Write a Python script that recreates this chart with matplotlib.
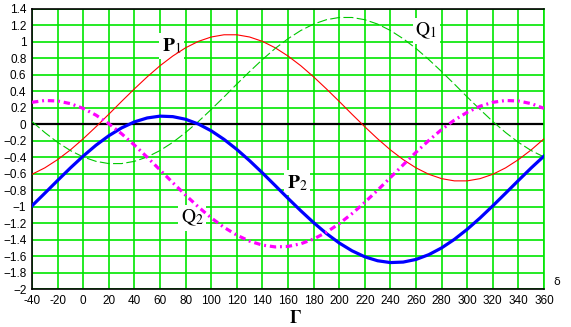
import numpy as np
import matplotlib
matplotlib.use("Agg")
import matplotlib.pyplot as plt

# data, every 10 units of r
r = list(range(-40, 361, 10))

P1 = [-0.607, -0.529, -0.429, -0.311, -0.176, -0.030, 0.122, 0.278, 0.430, 0.576,
      0.711, 0.829, 0.929, 1.007, 1.060, 1.087, 1.087, 1.060, 1.007, 0.929,
      0.829, 0.711, 0.576, 0.430, 0.278, 0.122, -0.030, -0.176, -0.311, -0.429,
      -0.529, -0.607, -0.660, -0.687, -0.687, -0.660, -0.607, -0.529, -0.429, -0.311,
      -0.176]

Q1 = [0.034, -0.100, -0.219, -0.319, -0.397, -0.450, -0.477, -0.477, -0.450, -0.397,
      -0.319, -0.219, -0.100, 0.034, 0.180, 0.332, 0.488, 0.640, 0.786, 0.921,
      1.039, 1.139, 1.217, 1.270, 1.297, 1.297, 1.270, 1.217, 1.139, 1.039,
      0.921, 0.786, 0.640, 0.488, 0.332, 0.180, 0.034, -0.100, -0.219, -0.319,
      -0.397]

P2 = [-0.990, -0.837, -0.682, -0.530, -0.386, -0.254, -0.139, -0.044, 0.029, 0.077,
      0.099, 0.093, 0.061, 0.003, -0.079, -0.183, -0.305, -0.442, -0.590, -0.744,
      -0.899, -1.050, -1.194, -1.326, -1.441, -1.536, -1.609, -1.657, -1.679, -1.673,
      -1.641, -1.583, -1.501, -1.397, -1.275, -1.138, -0.990, -0.837, -0.682, -0.530,
      -0.386]

Q2 = [0.267, 0.289, 0.283, 0.251, 0.193, 0.111, 0.007, -0.115, -0.252, -0.400,
      -0.554, -0.709, -0.860, -1.004, -1.136, -1.251, -1.346, -1.419, -1.467, -1.489,
      -1.483, -1.451, -1.393, -1.311, -1.207, -1.085, -0.948, -0.800, -0.647, -0.492,
      -0.340, -0.196, -0.064, 0.051, 0.146, 0.219, 0.267, 0.289, 0.283, 0.251,
      0.193]

x_ticks = list(range(-40, 361, 20))
y_ticks = [round(v, 1) for v in np.arange(-2.0, 1.41, 0.2)]

plt.rcParams["mathtext.fontset"] = "stix"
grid_green = "#00e600"

fig = plt.figure(figsize=(5.71, 3.27), dpi=100)
ax = fig.add_axes([32 / 571, 1 - 289 / 327, 512 / 571, 280 / 327])

ax.set_xlim(-40, 360)
ax.set_ylim(-2, 1.4)
ax.set_xticks(x_ticks)
ax.set_yticks(y_ticks)
ax.set_xticklabels([str(v) for v in x_ticks])
ax.set_yticklabels([("%g" % v).replace("-", "\u2212") if v != 0 else "0" for v in y_ticks])
ax.tick_params(length=0, labelsize=8.5, pad=4)
for lab in ax.get_xticklabels() + ax.get_yticklabels():
    lab.set_family("Liberation Sans")
ax.grid(True, color=grid_green, lw=1.2)
ax.set_axisbelow(True)

for side in ["left", "bottom", "top"]:
    ax.spines[side].set_color("black")
    ax.spines[side].set_linewidth(1.2)
ax.spines["right"].set_color(grid_green)
ax.spines["right"].set_linewidth(1.2)

ax.axhline(0, color="black", lw=1.6, zorder=2)

ax.plot(r, P1, color="red", lw=0.8, zorder=3)
ax.plot(r, Q1, color="#00c800", lw=0.8, dashes=(9, 3), zorder=3)
ax.plot(r, P2, color="#0000ff", lw=2.3, zorder=4)
ax.plot(r, Q2, color="#ff00ff", lw=2.3, dashes=(2, 1.2, 0.6, 1.2), zorder=4)

# curve names sit on white patches that hide the grid but not the curves
box = dict(facecolor="white", edgecolor="none", pad=2)
ax.text(69, 0.95, r"$\mathbf{P}_{1}$", fontsize=14, ha="center", va="center", bbox=box, zorder=2.5)
ax.text(268, 1.13, r"$\mathrm{Q}_{1}$", fontsize=14, ha="center", va="center", bbox=box, zorder=2.5)
ax.text(167, -0.71, r"$\mathbf{P}_{2}$", fontsize=14, ha="center", va="center", bbox=box, zorder=2.5)
ax.text(85, -1.14, r"$\mathrm{Q}_{2}$", fontsize=14, ha="center", va="center", bbox=box, zorder=2.5)

fig.text(295 / 571, 1 - 318 / 327, r"$\mathbf{\Gamma}$", fontsize=13, ha="center", va="center")
fig.text(557 / 571, 1 - 282 / 327, "\u03b4", fontsize=8, ha="center", va="center")

fig.savefig("out.png", dpi=100)
